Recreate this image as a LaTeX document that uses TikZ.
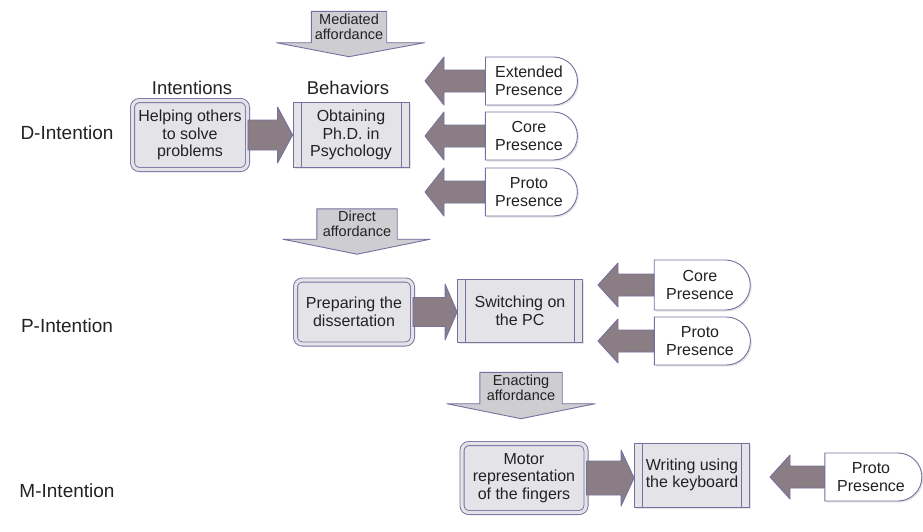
\documentclass[tikz,border=0pt]{standalone}
\usepackage{fontspec}
\setmainfont{Liberation Sans}
\usetikzlibrary{shapes.misc,calc,shadows}

\definecolor{bord}{RGB}{118,112,160}
\definecolor{boxfill}{RGB}{228,228,232}
\definecolor{affill}{RGB}{206,206,210}
\definecolor{arrfill}{RGB}{138,126,132}
\definecolor{txt}{RGB}{34,34,34}

\tikzset{
  every node/.style={text=txt, font=\fontsize{16}{17.5}\selectfont, align=center, inner sep=0pt},
  levellabel/.style={font=\fontsize{19}{22}\selectfont},
  headlabel/.style={font=\fontsize{18.5}{22}\selectfont},
  intentbox/.style={draw=bord, line width=0.9pt, double=boxfill, double distance=3.2pt,
    fill=boxfill, rounded corners=7pt,
    drop shadow={opacity=0.25, shadow xshift=1.5pt, shadow yshift=-1.5pt}},
  behavbox/.style={draw=bord, line width=0.9pt, fill=boxfill,
    path picture={
      \draw[bord, line width=0.8pt]
        ([xshift=8pt]path picture bounding box.north west) -- ([xshift=8pt]path picture bounding box.south west)
        ([xshift=-8pt]path picture bounding box.north east) -- ([xshift=-8pt]path picture bounding box.south east);
    },
    drop shadow={opacity=0.2, shadow xshift=1.5pt, shadow yshift=-1.5pt}},
  presence/.style={draw=bord, line width=0.9pt, fill=white, shape=rounded rectangle,
    rounded rectangle left arc=none,
    drop shadow={opacity=0.2, shadow xshift=1.5pt, shadow yshift=-1.5pt}},
  fatarrow/.style={draw=bord, line width=0.9pt, fill=arrfill, line join=round},
  affbox/.style={draw=bord, line width=0.9pt, fill=affill, line join=round},
  afftext/.style={font=\fontsize{14.5}{15}\selectfont},
}

% horizontal block arrow from #1 to #2: shaft half-height #3, head half-height #4, head length #5
\newcommand\blockarrow[5]{%
  \draw[fatarrow] let \p1=(#1), \p2=(#2), \n1={sign(\x2-\x1)*#5} in
    (\x1,\y1+#3) -- (\x2-\n1,\y1+#3) -- (\x2-\n1,\y1+#4) -- (\x2,\y1)
    -- (\x2-\n1,\y1-#4) -- (\x2-\n1,\y1-#3) -- (\x1,\y1-#3) -- cycle;}

% downward affordance arrow: text box #1 with a wide flat head below it
% #2 left reach, #3 right reach, #4 tip depth
\newcommand\affhead[4]{%
  \draw[affbox] let \p1=(#1.north west), \p2=(#1.south east), \p3=(#1.south) in
    (\x1,\y1) -- (\x2,\y1) -- (\x2,\y2) -- (\x2+#3,\y2) -- (\x3,\y2-#4)
    -- (\x1-#2,\y2) -- (\x1,\y2) -- cycle;}

\begin{document}
\begin{tikzpicture}[x=1pt,y=-1pt]
\useasboundingbox (0,0) rectangle (923,531);
\fill[white] (0,0) rectangle (923,531);

% level labels
\node[levellabel] (ld) at (67,133) {D-Intention};
\node[levellabel] (lp) at (67,326) {P-Intention};
\node[levellabel] (lm) at (67,491) {M-Intention};

% column headings
\node[headlabel] (hint) at (192,88) {Intentions};
\node[headlabel] (hbeh) at (348,88) {Behaviors};

% ---- D level ----
\node[intentbox, minimum width=115pt, minimum height=69pt] (help) at (190,135)
  {Helping others\\to solve\\problems};
\node[behavbox, minimum width=116pt, minimum height=65pt] (phd) at (351,135)
  {Obtaining\\Ph.D. in\\Psychology};
\blockarrow{help.east}{phd.west}{15pt}{28pt}{15pt}

\node[presence, minimum width=92pt, minimum height=48pt] (extp) at (529,81)
  {Extended\\Presence};
\node[presence, minimum width=92pt, minimum height=48pt] (corep) at (529,136)
  {Core\\Presence};
\node[presence, minimum width=92pt, minimum height=48pt] (protop) at (529,192)
  {Proto\\Presence};
\coordinate (phdr1) at (425,81);
\coordinate (phdr2) at (425,136);
\coordinate (phdr3) at (425,192);
\blockarrow{extp.west}{phdr1}{11pt}{24pt}{19pt}
\blockarrow{corep.west}{phdr2}{11pt}{24pt}{19pt}
\blockarrow{protop.west}{phdr3}{11pt}{24pt}{19pt}

% affordances
\node[afftext, minimum width=75pt, minimum height=31pt] (medaff) at (349,27) {};
\affhead{medaff}{35pt}{38pt}{14pt}
\node[afftext] at (medaff) {Mediated\\affordance};

\node[afftext, minimum width=80pt, minimum height=30pt] (diraff) at (357,224) {};
\affhead{diraff}{34pt}{33pt}{15pt}
\node[afftext] at (diraff) {Direct\\affordance};

\node[afftext, minimum width=82pt, minimum height=31pt] (enaff) at (521,388) {};
\affhead{enaff}{33pt}{33pt}{15pt}
\node[afftext] at (enaff) {Enacting\\affordance};

% ---- P level ----
\node[intentbox, minimum width=117pt, minimum height=64pt] (prep) at (354,312)
  {Preparing the\\dissertation};
\node[behavbox, minimum width=125pt, minimum height=63pt] (pc) at (520,311)
  {Switching on\\the PC};
\blockarrow{prep.east}{pc.west}{14.5pt}{28pt}{12pt}

\node[presence, minimum width=96pt, minimum height=50pt] (corep2) at (700,285)
  {Core\\Presence};
\node[presence, minimum width=96pt, minimum height=48pt] (protop2) at (700,341)
  {Proto\\Presence};
\coordinate (pcr1) at (598,285);
\coordinate (pcr2) at (598,341);
\blockarrow{corep2.west}{pcr1}{11pt}{22pt}{20pt}
\blockarrow{protop2.west}{pcr2}{11pt}{22pt}{20pt}

% ---- M level ----
\node[intentbox, minimum width=124pt, minimum height=69pt] (motor) at (524,478)
  {Motor\\representation\\of the fingers};
\node[behavbox, minimum width=115pt, minimum height=64pt] (kbd) at (692,475)
  {Writing using\\the keyboard};
\blockarrow{motor.east}{kbd.west}{17pt}{28pt}{13pt}

\node[presence, minimum width=97pt, minimum height=48pt] (protop3) at (871,477)
  {Proto\\Presence};
\coordinate (kbdr) at (770,477);
\blockarrow{protop3.west}{kbdr}{11pt}{22pt}{20pt}
\end{tikzpicture}
\end{document}
